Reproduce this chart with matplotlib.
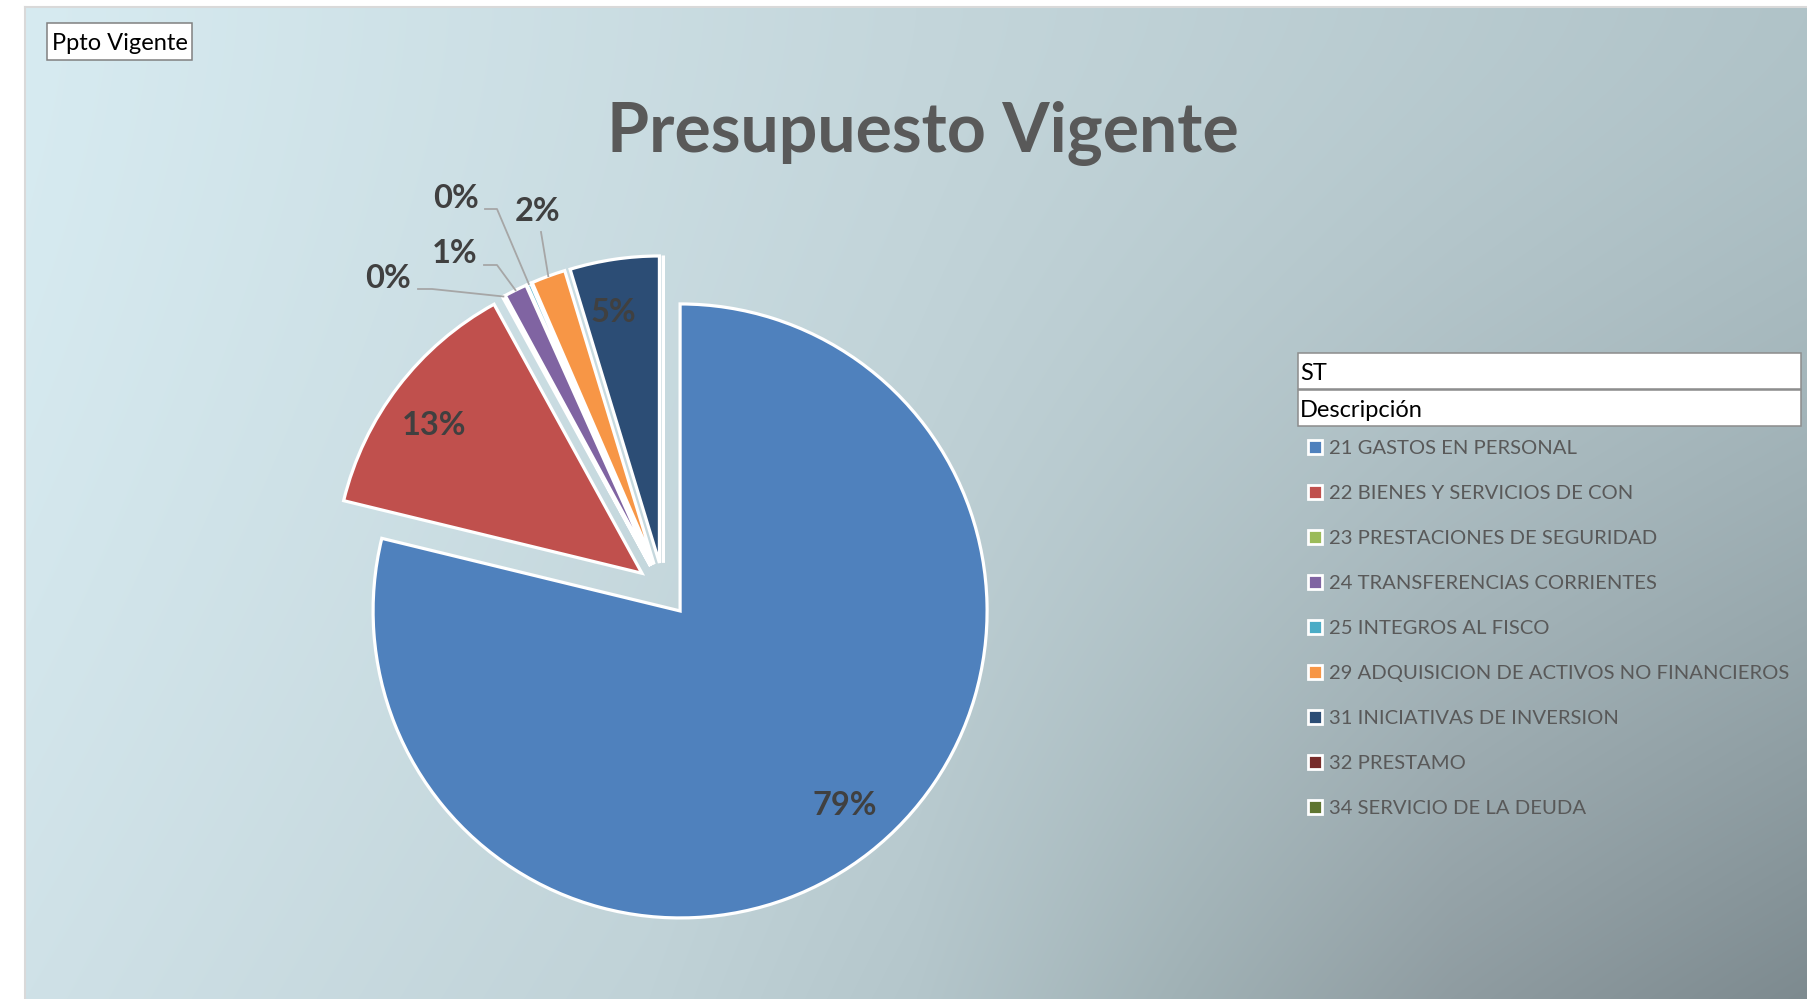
import numpy as np
import matplotlib
matplotlib.use("Agg")
import matplotlib.pyplot as plt
from matplotlib.patches import Rectangle
from matplotlib.lines import Line2D

plt.rcParams['font.family'] = ['Lato', 'DejaVu Sans']

# datos del grafico
categorias = ["21 GASTOS EN PERSONAL", "22 BIENES Y SERVICIOS DE CON",
              "23 PRESTACIONES DE SEGURIDAD", "24 TRANSFERENCIAS CORRIENTES",
              "25 INTEGROS AL FISCO", "29 ADQUISICION DE ACTIVOS NO FINANCIEROS",
              "31 INICIATIVAS DE INVERSION", "32 PRESTAMO", "34 SERVICIO DE LA DEUDA"]
porcentajes = [78.8, 13.2, 0.1, 1.2, 0.2, 1.8, 4.7, 0.0, 0.0]
colores = ["#4F81BD", "#C0504D", "#9BBB59", "#8064A2", "#4BACC6",
           "#F79646", "#2C4D75", "#772C2A", "#5F7530"]
titulo = "Presupuesto Vigente"
boton_filtro = "Ppto Vigente"
campos_leyenda = ["ST", "Descripción"]

W, H = 1808, 999
fig = plt.figure(figsize=(W / 100, H / 100), dpi=100)
fig.patch.set_facecolor("white")


def fx(x):
    return x / W


def fy(y):
    # y medido desde arriba, en pixeles
    return 1 - y / H


# fondo degradado del area del grafico
x0, y0 = 25, 7
bg = fig.add_axes([fx(x0), 0, fx(W - x0), (H - y0) / H])
ncols, nrows = W - x0, H - y0
u = np.linspace(0, 1, ncols)
v = np.linspace(0, 1, nrows)
sup_u = [0, 0.5, 1]
sup_c = np.array([[215, 235, 241], [196, 214, 219], [176, 195, 200]])
inf_u = [0, 0.35, 0.5, 0.65, 0.8, 1]
inf_c = np.array([[207, 225, 231], [192, 210, 215], [180, 198, 203],
                  [160, 177, 181], [143, 156, 161], [125, 138, 143]])
arriba = np.stack([np.interp(u, sup_u, sup_c[:, k]) for k in range(3)], axis=-1)
abajo = np.stack([np.interp(u, inf_u, inf_c[:, k]) for k in range(3)], axis=-1)
w = (v ** 1.5)[:, None, None]
img = (arriba[None, :, :] * (1 - w) + abajo[None, :, :] * w) / 255.0
bg.imshow(img, aspect="auto", interpolation="bilinear")
bg.axis("off")
fig.add_artist(Line2D([fx(x0), fx(x0)], [0, fy(y0)], color="#d9d9d9", lw=1.5))
fig.add_artist(Line2D([fx(x0), 1], [fy(y0), fy(y0)], color="#d9d9d9", lw=1.5))

# torta
cx, cy, R = 663.4, 589.7, 307.0
S = 430.0
ax = fig.add_axes([fx(cx - S), fy(cy + S), 2 * S / W, 2 * S / H])
wedges, _ = ax.pie(porcentajes, colors=colores, startangle=90, counterclock=False,
                   explode=[0.088] * len(porcentajes), radius=1,
                   wedgeprops=dict(edgecolor="white", linewidth=2.3))
ax.set_xlim(-S / R, S / R)
ax.set_ylim(-S / R, S / R)
ax.set_facecolor("none")
ax.axis("off")


def px2data(x, y):
    return (x - cx) / R, (cy - y) / R


# posiciones de etiquetas externas (pixeles) y codo del conector
externas = {2: ((388, 279), [(418, 289), (432, 289)]),
            3: ((455, 254), [(484, 265), (497, 265)]),
            4: ((456, 199), [(485, 209), (497, 209)]),
            5: ((538, 212), [(541, 232)])}

for i, (wd, val) in enumerate(zip(wedges, porcentajes)):
    if val == 0:
        continue
    txt = f"{round(val)}%"
    ang = np.deg2rad(0.5 * (wd.theta1 + wd.theta2))
    wc = wd.center
    if i in externas:
        (tx, ty), codo = externas[i]
        px, py = px2data(tx, ty)
        ax.text(px, py, txt, ha="center", va="center", fontsize=23.5,
                fontweight="bold", color="#404040")
        pts = [px2data(a, b) for a, b in codo]
        pts.append((wc[0] + np.cos(ang), wc[1] + np.sin(ang)))
        ax.plot([p[0] for p in pts], [p[1] for p in pts], color="#a6a6a6", lw=1.3)
    else:
        ang_t = ang + np.deg2rad(2)
        ax.text(wc[0] + 0.83 * np.cos(ang_t), wc[1] + 0.83 * np.sin(ang_t), txt,
                ha="center", va="center", fontsize=23.5, fontweight="bold",
                color="#404040")

# titulo
fig.text(fx(923), fy(133), titulo, ha="center", va="center", fontsize=49,
         fontweight="bold", color="#595959")

# boton de filtro
fig.add_artist(Rectangle((fx(47), fy(60)), fx(145), 37 / H, facecolor="white",
                         edgecolor="#808080", lw=1.1, transform=fig.transFigure))
fig.text(fx(52), fy(44), boton_filtro, ha="left", va="center", fontsize=17,
         color="black")

# campos de la leyenda
for k, campo in enumerate(campos_leyenda):
    top = 353 + 37 * k
    fig.add_artist(Rectangle((fx(1298), fy(top + 36)), fx(503), 36 / H,
                             facecolor="white", edgecolor="#8c8c8c", lw=1.1,
                             transform=fig.transFigure))
    fig.text(fx(1300), fy(top + 21), campo, ha="left", va="center", fontsize=17,
             color="black")

# leyenda
handles = [Line2D([], [], marker="s", linestyle="none", markersize=9.9,
                  markerfacecolor=c, markeredgecolor="white", markeredgewidth=2)
           for c in colores]
fig.legend(handles, categorias, loc="upper left",
           bbox_to_anchor=(fx(1307), fy(440)), frameon=False, fontsize=14.6,
           labelcolor="#595959", handlelength=0.82, handletextpad=0.26,
           borderpad=0, borderaxespad=0, labelspacing=1.37)

fig.savefig("out.png", dpi=100, facecolor="white")
